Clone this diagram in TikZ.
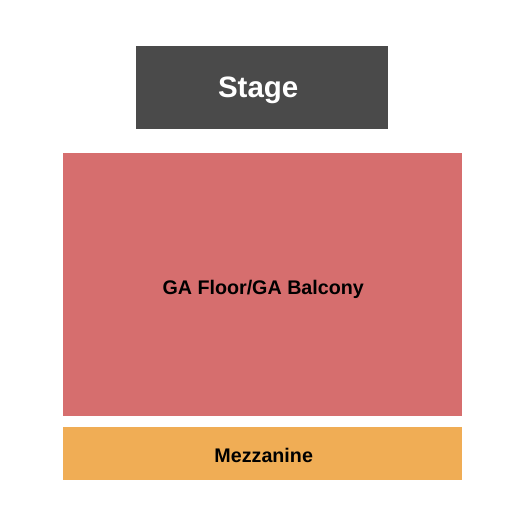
\documentclass[tikz,border=0pt]{standalone}
\usepackage{fontspec}
\setmainfont{Liberation Sans}
\definecolor{stagec}{HTML}{4A4A4A}
\definecolor{gac}{HTML}{D66E6E}
\definecolor{mezc}{HTML}{F0AD55}
\begin{document}
\begin{tikzpicture}[x=1pt,y=-1pt,
  section/.style={draw=none,inner sep=0pt,anchor=north west},
  lbl/.style={font=\bfseries\fontsize{19.7}{22}\selectfont,text=black}]
\useasboundingbox[fill=white] (0,0) rectangle (525,525);
\node[section,fill=stagec,minimum width=252pt,minimum height=83pt] (stage) at (136,46) {};
\node[text=white,font=\bfseries\fontsize{29.5}{34}\selectfont] (stagel) at ([xshift=-4pt,yshift=-3pt]stage.center) {Stage};
\node[section,fill=gac,minimum width=399pt,minimum height=263pt] (ga) at (63,153) {};
\node[lbl] (gal) at ([xshift=0.5pt,yshift=-5pt]ga.center) {GA Floor/GA Balcony};
\node[section,fill=mezc,minimum width=399pt,minimum height=53pt] (mez) at (63,427) {};
\node[lbl] (mezl) at ([xshift=1pt,yshift=-2pt]mez.center) {Mezzanine};
\end{tikzpicture}
\end{document}
